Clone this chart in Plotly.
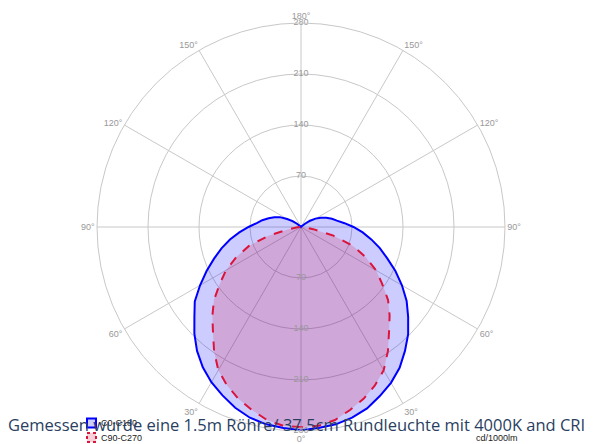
import plotly.graph_objects as go

# Angles (deg from nadir) and luminous intensity (cd/1000lm)
angles_c0 = [0, 5, 10, 15, 20, 25, 30, 35, 40, 45, 50, 55, 60, 65, 70, 75, 80, 85, 90,
             95, 100, 105, 110, 115, 120, 125, 130, 135, 140]
c0 = [279, 277, 275, 271, 264, 255, 246, 235, 222, 207, 191, 178, 160, 143, 127, 113, 99, 85, 72,
      61, 54, 46, 39, 32, 22, 14, 7, 2, 0]
c180 = [279, 277, 275, 271, 265, 256, 247, 236, 222, 208, 192, 177, 160, 143, 126, 112, 98, 85, 72,
        60, 50, 44, 37, 30, 23, 15, 7, 2, 0]

angles_c90 = [0, 5, 10, 15, 20, 25, 30, 35, 40, 45, 50, 55, 60, 65, 70, 75, 80, 85, 90]
c90 = [275, 274, 269, 260, 251, 240, 227, 208, 188, 172, 156, 136, 119, 98, 76, 46, 17, 5, 0]
c270 = [275, 274, 269, 260, 251, 240, 227, 208, 188, 172, 156, 136, 119, 98, 76, 46, 17, 5, 0]

radial_ticks = [70, 140, 210, 280]
angle_tickvals = [0, 30, 60, 90, 120, 150, 180, 210, 240, 270, 300, 330]
angle_ticktext = ["0°", "30°", "60°", "90°", "120°", "150°", "180°", "150°", "120°", "90°", "60°", "30°"]

series_names = ["C0-C180", "C90-C270"]
series_line = ["#0000ff", "#dc143c"]
series_fill = ["rgba(0,0,255,0.2)", "rgba(220,20,60,0.2)"]
series_dash = ["solid", "dash"]

title_text = "Gemessen wurde eine 1.5m Röhre/ 37.5cm Rundleuchte mit 4000K and CRI"
unit_text = "cd/1000lm"

W, H = 598, 444
OFF = 8  # page offset of the figure


def closed_curve(angles, left, right):
    th = list(angles) + [360 - a for a in reversed(angles)]
    rr = list(left) + list(reversed(right))
    return th + [th[0]], rr + [rr[0]]


curves = [closed_curve(angles_c0, c0, c180), closed_curve(angles_c90, c90, c270)]

fig = go.Figure()
for i, (th, rr) in enumerate(curves):
    fig.add_trace(go.Scatterpolar(
        r=rr, theta=th, mode="lines", name=series_names[i],
        fill="toself", fillcolor=series_fill[i],
        line=dict(color=series_line[i], width=2, dash=series_dash[i]),
        showlegend=False))
fig.add_trace(go.Scatterpolar(
    r=radial_ticks + radial_ticks, theta=[180] * 4 + [0] * 4,
    mode="text", text=[str(v) for v in radial_ticks] * 2,
    textfont=dict(color="#999999", size=9, family="Arial"),
    showlegend=False, hoverinfo="skip"))

cx, cy, R = 301 - OFF, 227 - OFF, 204
fig.update_layout(
    width=W, height=H,
    margin=dict(l=0, r=0, t=0, b=0),
    paper_bgcolor="white",
    showlegend=False,
    polar=dict(
        domain=dict(x=[(cx - R) / W, (cx + R) / W], y=[(H - cy - R) / H, (H - cy + R) / H]),
        bgcolor="white",
        angularaxis=dict(rotation=-90, direction="clockwise",
                         tickmode="array", tickvals=angle_tickvals, ticktext=angle_ticktext,
                         tickfont=dict(size=9, color="#999999", family="Arial"),
                         showline=True, linecolor="#c8c8c8", linewidth=1,
                         gridcolor="#c8c8c8", ticks=""),
        radialaxis=dict(range=[0, 280], tickvals=radial_ticks, showticklabels=False,
                        showline=False, gridcolor="#c8c8c8", ticks=""),
    ),
)

# manual legend (boxes + labels)
legend_rows = [423 - OFF, 437.5 - OFF]
for i, yc in enumerate(legend_rows):
    fig.add_shape(type="rect", xref="paper", yref="paper",
                  x0=(87 - OFF) / W, x1=(96 - OFF) / W, y0=(H - yc - 4.5) / H, y1=(H - yc + 4.5) / H,
                  line=dict(color=series_line[i], width=2, dash="dot" if i == 1 else "solid"),
                  fillcolor=series_fill[i])
    fig.add_annotation(text=series_names[i], xref="paper", yref="paper",
                       x=(99 - OFF) / W, y=(H - yc) / H, xanchor="left", yanchor="middle",
                       showarrow=False, font=dict(size=9, color="#222", family="Arial"))

fig.add_annotation(text=title_text, xref="paper", yref="paper", x=-0.003, y=(H - 424 + OFF) / H,
                   xanchor="left", yanchor="middle", showarrow=False,
                   font=dict(size=16.5, color="#2a3f5f", family="Open Sans"))
fig.add_annotation(text=unit_text, xref="paper", yref="paper", x=(474 - OFF) / W, y=(H - 438 + OFF) / H,
                   xanchor="left", yanchor="middle", showarrow=False,
                   font=dict(size=9, color="#222", family="Arial"))

fig.write_html("out.html")
